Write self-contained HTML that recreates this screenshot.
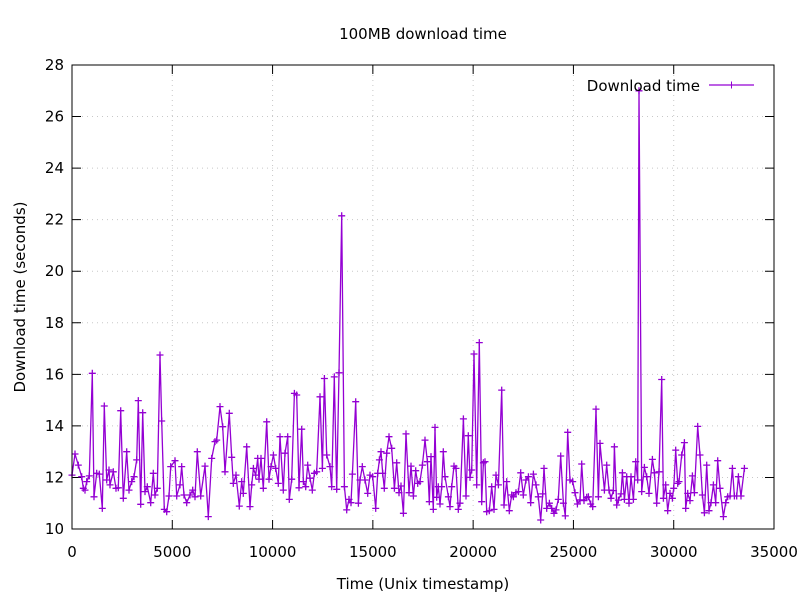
<!DOCTYPE html>
<html><head><meta charset="utf-8"><style>
body{margin:0;background:#fff;}
svg{display:block;font-family:"DejaVu Sans","Liberation Sans",sans-serif;}
</style></head><body>
<svg id="chart" width="800" height="600" xmlns="http://www.w3.org/2000/svg">
<rect width="800" height="600" fill="#fff"/>
<g id="grid"></g>
<g id="axes"></g>
<g id="series"></g>
<rect x="72" y="65" width="702" height="464" fill="none" stroke="#000" stroke-width="1"/>
<text x="423" y="39" text-anchor="middle" font-size="15">100MB download time</text>
<text x="423" y="589" text-anchor="middle" font-size="15">Time (Unix timestamp)</text>
<text x="25" y="297" text-anchor="middle" font-size="15" transform="rotate(-90 25 297)">Download time (seconds)</text>
<g>
<text x="700" y="91" text-anchor="end" font-size="15">Download time</text>
<line x1="709" y1="85" x2="754" y2="85" stroke="#9400d3" stroke-width="1.3"/>
<path d="M728 85h7M731.5 81.5v7" stroke="#9400d3"/>
</g>
</svg>
<script>
const xTicks=[0,5000,10000,15000,20000,25000,30000,35000];
const yTicks=[10,12,14,16,18,20,22,24,26,28];
const times=[0,149,316,482,565,648,731,864,1014,1097,1230,1363,1512,1612,1728,1845,1894,2061,2194,2310,2426,2559,2725,2842,2975,3091,3224,3307,3423,3523,3640,3756,3922,4055,4138,4254,4387,4471,4603,4720,4836,4919,5135,5218,5385,5468,5584,5717,5883,6016,6133,6249,6415,6631,6797,6964,7130,7213,7379,7512,7628,7844,7961,8044,8177,8343,8459,8542,8709,8875,
8958,9042,9158,9258,9324,9424,9540,9706,9823,9922,10039,10155,10288,10371,10537,10620,10753,10836,10953,11086,11202,11318,11451,11535,11651,11751,11867,11983,12083,12199,12366,12482,12582,12698,12864,12947,13080,13197,13313,13446,13579,13695,13812,13911,13978,14144,14277,14360,14476,14609,14742,14859,14991,15141,15241,15324,15407,15490,15573,15690,15806,15939,16072,16188,16304,16404,16521,16654,16803,16903,17019,17135,17235,17352,17468,17601,
17717,17816,17899,18016,18099,18182,18265,18348,18431,18514,18598,18764,18847,18930,19046,19146,19262,19345,19512,19645,19761,19844,19927,20043,20176,20309,20426,20509,20592,20675,20808,20924,21041,21140,21257,21423,21539,21672,21805,21922,22005,22138,22254,22370,22503,22636,22753,22869,23002,23135,23251,23368,23467,23534,23667,23800,23916,24032,24132,24248,24365,24498,24597,24714,24830,24963,25079,25196,25329,25412,25528,25661,25744,25861,25960,26126,26243,26326,
26542,26659,26775,26875,26991,27041,27157,27240,27373,27440,27540,27656,27772,27872,27988,28105,28204,28271,28404,28537,28653,28769,28936,29035,29152,29268,29401,29484,29600,29700,29817,29933,29999,30099,30199,30265,30398,30531,30598,30697,30814,30930,31030,31196,31312,31429,31528,31645,31761,31861,31977,32094,32193,32310,32476,32592,32692,32808,32925,33024,33141,33224,33357,33523];
const downloadTimes=[12.09,12.91,12.48,12.03,11.58,11.51,11.84,12.06,16.04,11.25,12.16,12.13,10.80,14.77,11.90,12.29,11.71,12.22,11.58,11.60,14.59,11.19,13.0,11.51,11.84,12.03,12.68,14.98,10.96,14.51,11.45,11.64,11.02,12.16,11.32,11.58,16.75,14.19,10.76,10.67,11.28,12.42,12.65,11.28,11.71,12.42,11.32,11.02,11.32,11.51,11.25,13.0,11.28,12.44,10.48,12.74,13.39,13.45,14.75,13.97,12.22,14.49,12.78,11.77,12.09,10.89,11.84,11.38,13.19,10.87,
11.71,12.35,12.09,12.74,11.93,12.74,11.58,14.16,11.93,12.42,12.87,12.35,11.77,13.58,11.51,12.94,13.58,11.15,11.93,15.26,15.2,11.6,13.87,11.84,11.64,12.48,11.97,11.51,12.16,12.22,15.13,12.35,15.84,12.87,12.42,11.64,15.9,11.54,16.06,22.15,11.64,10.74,11.15,11.02,12.13,14.94,11.0,11.9,12.42,11.9,11.38,12.09,12.03,10.8,12.16,12.68,13.0,12.16,11.58,12.94,13.58,13.13,11.58,12.57,11.41,11.67,10.61,13.69,11.41,12.44,11.28,12.26,11.77,11.84,12.48,13.45,
12.61,11.06,12.81,10.76,13.94,11.23,11.64,10.97,11.64,13.0,12.03,11.25,10.87,11.64,12.44,12.35,10.76,11.0,14.27,11.28,13.62,12.0,12.29,16.79,11.71,17.23,11.06,12.57,12.61,10.67,10.71,11.64,10.76,12.09,11.71,15.39,10.93,11.84,10.71,11.32,11.25,11.41,11.45,12.18,11.32,11.9,12.03,11.02,12.13,11.71,11.25,10.35,11.36,12.35,10.8,11.0,10.8,10.61,10.74,11.15,12.83,11.0,10.51,13.75,11.9,11.84,11.41,10.97,11.13,12.52,11.1,11.23,11.25,10.97,10.87,14.65,11.25,13.32,
11.51,12.48,11.51,11.19,11.49,13.19,10.93,11.12,11.36,12.18,11.15,12.03,11.0,12.03,11.15,12.61,11.9,27.0,11.45,12.39,12.03,11.38,12.7,12.18,11.0,12.22,15.8,11.19,11.71,10.71,11.38,11.19,11.58,13.06,11.77,11.84,12.87,13.35,10.8,11.38,11.1,12.06,11.41,13.98,12.87,11.32,10.63,12.48,10.71,11.02,11.71,11.02,12.65,11.58,10.48,11.02,11.25,11.28,12.35,11.28,11.28,12.03,11.28,12.35];

const NS='http://www.w3.org/2000/svg';
const L=72,R=774,T=65,B=529;
const xMin=0,xMax=35000,yMin=10,yMax=28;
function xs(v){return L+(v-xMin)/(xMax-xMin)*(R-L);}
function ys(v){return B-(v-yMin)/(yMax-yMin)*(B-T);}
function mk(tag,attrs,parent){const e=document.createElementNS(NS,tag);for(const k in attrs)e.setAttribute(k,attrs[k]);parent.appendChild(e);return e;}
const grid=document.getElementById('grid'),axes=document.getElementById('axes'),series=document.getElementById('series');
xTicks.forEach(t=>{
  const x=xs(t);
  if(t>xMin&&t<xMax){const g=mk('line',{x1:x,y1:T,x2:x,y2:B,stroke:'#c8c8c8','stroke-dasharray':'1,4'},grid);
  
  }
  const tk=mk('path',{d:`M${x} ${B}v-9M${x} ${T}v9`,stroke:'#000'},axes);
  
  
  const lb=mk('text',{x:x,y:B+28,'text-anchor':'middle','font-size':'15'},axes);
  lb.textContent=t;
  
  
});
yTicks.forEach(t=>{
  const y=ys(t);
  if(t>yMin&&t<yMax){const g=mk('line',{x1:L,y1:y,x2:R,y2:y,stroke:'#c8c8c8','stroke-dasharray':'1,4'},grid);
  
  }
  const tk=mk('path',{d:`M${L} ${y}h9M${R} ${y}h-9`,stroke:'#000'},axes);
  
  
  const lb=mk('text',{x:L-8,y:y+5,'text-anchor':'end','font-size':'15'},axes);
  lb.textContent=t;
  
  
});
let d='',m='';
times.forEach((t,i)=>{const x=xs(t),y=ys(downloadTimes[i]);d+=(i?'L':'M')+x.toFixed(1)+' '+y.toFixed(1);m+=`M${(x-3.5).toFixed(1)} ${y.toFixed(1)}h7M${x.toFixed(1)} ${(y-3.5).toFixed(1)}v7`;});
const ln=mk('path',{d:d,fill:'none',stroke:'#9400d3','stroke-width':'1.3'},series);


const pts=mk('path',{d:m,fill:'none',stroke:'#9400d3','stroke-width':'1.3'},series);


</script>
</body></html>
